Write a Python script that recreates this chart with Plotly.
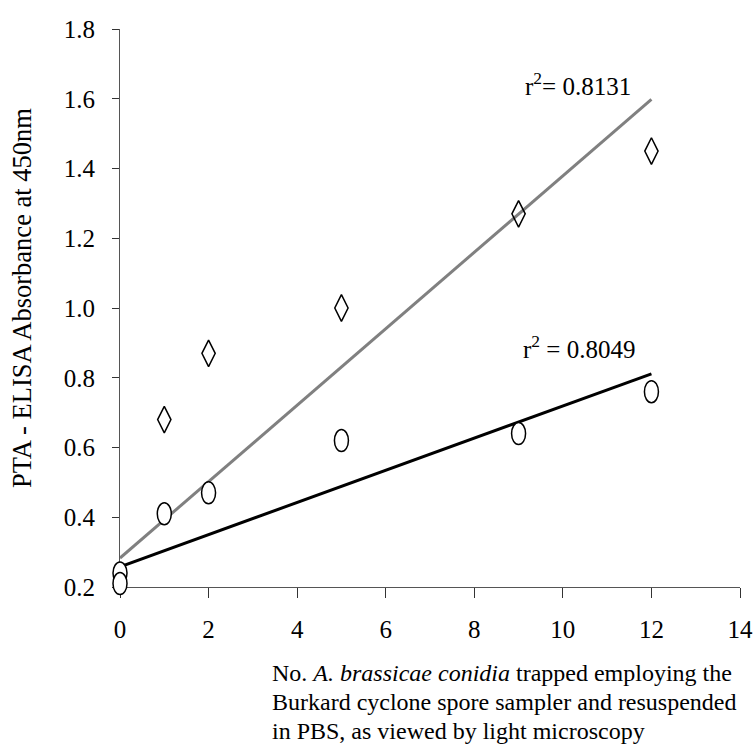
import plotly.graph_objects as go

# ---- data ----
diamond_x = [1, 2, 5, 9, 12]
diamond_y = [0.68, 0.87, 1.00, 1.27, 1.45]

circle_x = [0, 0, 1, 2, 5, 9, 12]
circle_y = [0.24, 0.21, 0.41, 0.47, 0.62, 0.64, 0.76]

# regression lines (intercept, slope) as drawn in the figure
gray_fit = (0.283, 0.1096)
black_fit = (0.258, 0.0461)
fit_x = [0, 12]

r2_gray = "0.8131"
r2_black = "0.8049"

x_range = [0, 14]
y_range = [0.2, 1.8]
x_ticks = [0, 2, 4, 6, 8, 10, 12, 14]
y_ticks = [0.2, 0.4, 0.6, 0.8, 1.0, 1.2, 1.4, 1.6, 1.8]

x_title_lines = [
    "No. <i>A. brassicae conidia</i> trapped employing the",
    "Burkard cyclone spore sampler and resuspended",
    "in PBS, as viewed by light microscopy",
]
y_title = "PTA - ELISA Absorbance at 450nm"

FONT = "Liberation Serif"

fig = go.Figure()

fig.add_trace(go.Scatter(
    x=fit_x, y=[gray_fit[0] + gray_fit[1] * v for v in fit_x],
    mode="lines", line=dict(color="#808080", width=3), showlegend=False, hoverinfo="skip"))
fig.add_trace(go.Scatter(
    x=fit_x, y=[black_fit[0] + black_fit[1] * v for v in fit_x],
    mode="lines", line=dict(color="black", width=3), showlegend=False, hoverinfo="skip"))

fig.add_trace(go.Scatter(
    x=diamond_x, y=diamond_y, mode="markers", cliponaxis=False,
    marker=dict(symbol="diamond-tall-open", size=19, color="black", line=dict(width=1.5)),
    showlegend=False))

# circle series: hover layer + upright white-filled ovals anchored on the axes' domain scale
fig.add_trace(go.Scatter(
    x=circle_x, y=circle_y, mode="markers", cliponaxis=False,
    marker=dict(size=14, color="rgba(0,0,0,0)"), showlegend=False))
for cx, cy in zip(circle_x, circle_y):
    fx = (cx - x_range[0]) / (x_range[1] - x_range[0])
    fy = (cy - y_range[0]) / (y_range[1] - y_range[0])
    fig.add_shape(type="circle", xref="x domain", yref="y domain",
                  xsizemode="pixel", ysizemode="pixel",
                  xanchor=fx, yanchor=fy, x0=-7, x1=7, y0=-11, y1=11,
                  line=dict(color="black", width=1.5), fillcolor="white",
                  layer="above")

fig.add_annotation(x=11.59, y=1.642, xref="x", yref="y", xanchor="right", yanchor="middle",
                   text="r<sup>2</sup>= " + r2_gray, showarrow=False,
                   font=dict(family=FONT, size=25, color="black"))
fig.add_annotation(x=11.68, y=0.888, xref="x", yref="y", xanchor="right", yanchor="middle",
                   text="r<sup>2</sup> = " + r2_black, showarrow=False,
                   font=dict(family=FONT, size=25, color="black"))

fig.add_annotation(x=-0.158, y=0.518, xref="paper", yref="paper", xanchor="center", yanchor="middle",
                   textangle=-90, text=y_title, showarrow=False,
                   font=dict(family=FONT, size=26.5, color="black"))
for line, ypos in zip(x_title_lines, [-0.1545, -0.2060, -0.2575]):
    fig.add_annotation(x=0.2435, y=ypos, xref="paper", yref="paper", xanchor="left", yanchor="middle",
                       align="left", showarrow=False, text=line, borderpad=0,
                       font=dict(family=FONT, size=24, color="black"))

fig.update_layout(
    width=756, height=745,
    margin=dict(l=120, r=16, t=29, b=158, autoexpand=False),
    paper_bgcolor="white", plot_bgcolor="white",
    font=dict(family=FONT, size=25, color="black"),
    xaxis=dict(range=x_range, tickvals=x_ticks, ticktext=[str(v) for v in x_ticks],
               showgrid=False, zeroline=False, showline=True, linecolor="#555555", linewidth=1,
               ticks="outside", ticklen=10, tickcolor="#333333", tickwidth=1,
               ticklabelstandoff=10, tickfont=dict(family=FONT, size=25, color="black")),
    yaxis=dict(range=y_range, tickvals=y_ticks, ticktext=["%.1f" % v for v in y_ticks],
               showgrid=False, zeroline=False, showline=True, linecolor="#555555", linewidth=1,
               ticks="outside", ticklen=7, tickcolor="#333333", tickwidth=1,
               ticklabelstandoff=12, tickfont=dict(family=FONT, size=25, color="black")),
)

fig.write_html("out.html")
